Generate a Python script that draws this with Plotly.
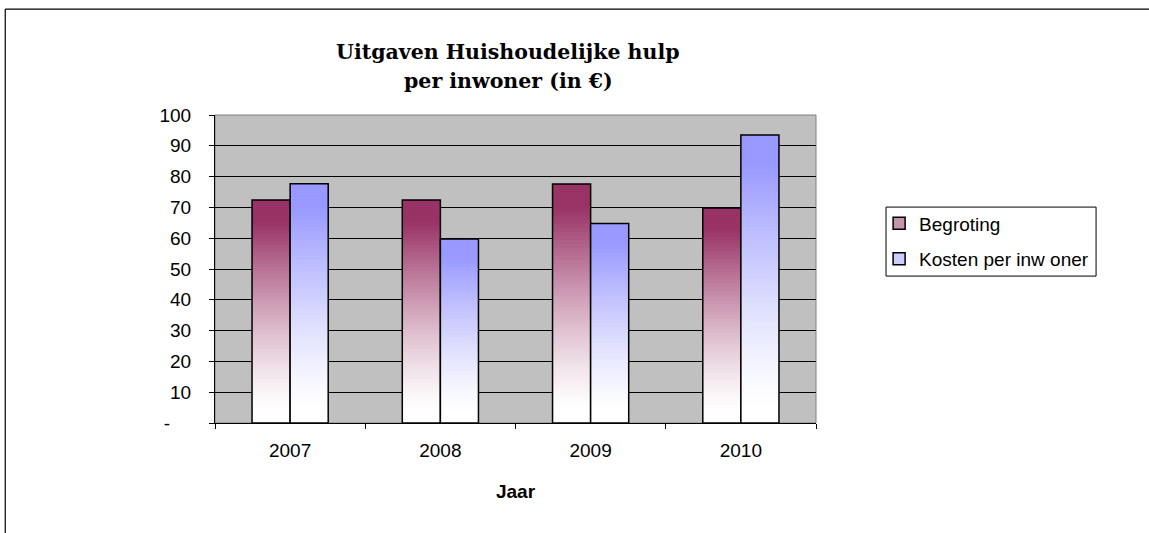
import plotly.graph_objects as go

# data
years = ['2007', '2008', '2009', '2010']
begroting = [72.4, 72.4, 77.6, 69.8]
kosten = [77.7, 59.7, 64.8, 93.5]
y_ticks = [0, 10, 20, 30, 40, 50, 60, 70, 80, 90, 100]
y_labels = ['-' + '&nbsp;' * 4, '10', '20', '30', '40', '50', '60', '70', '80', '90', '100']

N_SEG = 60


def mix(rgb, f):
    # blend from white (f=0) to rgb (f=1)
    return 'rgb({},{},{})'.format(*[int(round(255 + (c - 255) * f)) for c in rgb])


def gradient_bars(fig, values, rgb, group):
    # fake a vertical gradient by stacking thin slices of each bar
    for i in range(N_SEG):
        t = (i + 0.5) / N_SEG
        f = min(max((t - 0.05) / 0.85, 0), 1) ** 1.3
        fig.add_trace(go.Bar(
            x=years,
            y=[min(v / N_SEG * 2, v - v * i / N_SEG) for v in values],
            base=[v * i / N_SEG for v in values],
            offsetgroup=group,
            marker=dict(color=mix(rgb, f), line=dict(width=0)),
            showlegend=False,
            hoverinfo='skip'
        ))
    # black outline on top
    fig.add_trace(go.Bar(
        x=years, y=values, offsetgroup=group,
        marker=dict(color='rgba(0,0,0,0)', line=dict(color='black', width=1.5)),
        showlegend=False
    ))


fig = go.Figure()
gradient_bars(fig, begroting, (153, 51, 102), 'a')
gradient_bars(fig, kosten, (153, 153, 255), 'b')

# legend entries
fig.add_trace(go.Bar(x=years, y=[None] * 4, name='Begroting', offsetgroup='a', legendgroup='a',
                     marker=dict(color='#c495ab', line=dict(color='black', width=1.5))))
fig.add_trace(go.Bar(x=years, y=[None] * 4, name='Kosten per inw oner', offsetgroup='b', legendgroup='b',
                     marker=dict(color='#ccccff', line=dict(color='black', width=1.5))))

fig.update_layout(
    width=1149, height=533,
    margin=dict(l=215, r=333, t=115, b=110),
    paper_bgcolor='white',
    plot_bgcolor='#c0c0c0',
    barmode='group',
    bargap=0.493,
    bargroupgap=0,
    font=dict(family='Liberation Sans, Arial', size=19, color='black'),
    legend=dict(
        x=1.105, y=0.71, xanchor='left', yanchor='top',
        borderwidth=0, bgcolor='rgba(0,0,0,0)',
        font=dict(size=19), tracegroupgap=8, itemwidth=30
    ),
    xaxis=dict(
        type='category', showgrid=False, showline=True, linecolor='black', linewidth=1,
        ticks='outside', tickson='boundaries', ticklen=5, tickcolor='black',
        ticklabelstandoff=10,
        title=dict(text='<b>Jaar</b>', standoff=24, font=dict(size=19))
    ),
    yaxis=dict(
        range=[0, 100], tickvals=y_ticks, ticktext=y_labels,
        showgrid=True, gridcolor='black', gridwidth=1,
        showline=True, linecolor='black', linewidth=1,
        ticks='outside', ticklen=5, tickcolor='black', zeroline=False,
        ticklabelstandoff=14
    ),
    annotations=[
        dict(text='<b>Uitgaven Huishoudelijke hulp</b>', xref='paper', yref='paper',
             x=0.488, y=1.205, showarrow=False, yanchor='middle',
             font=dict(family='DejaVu Serif', size=20.5)),
        dict(text='<b>per inwoner (in €)</b>', xref='paper', yref='paper',
             x=0.488, y=1.11, showarrow=False, yanchor='middle',
             font=dict(family='DejaVu Serif', size=20.5)),
    ],
    shapes=[
        # grey frame of the plot area
        dict(type='rect', xref='paper', yref='paper', x0=0, x1=1, y0=0, y1=1,
             line=dict(color='#808080', width=1), layer='below'),
        # legend box
        dict(type='rect', xref='paper', yref='paper', x0=1.1165, x1=1.466, y0=0.477, y1=0.701,
             line=dict(color='black', width=1), fillcolor='white', layer='below'),
        # outer chart border (top and left edges)
        dict(type='line', xref='paper', yref='paper', x0=-0.349, x1=1.6, y0=1.344, y1=1.344,
             line=dict(color='black', width=1.2)),
        dict(type='line', xref='paper', yref='paper', x0=-0.349, x1=-0.349, y0=1.344, y1=-0.5,
             line=dict(color='black', width=1.2)),
    ]
)

fig.write_html("out.html", config={'displayModeBar': False},
               post_script="document.body.style.margin='0';")
